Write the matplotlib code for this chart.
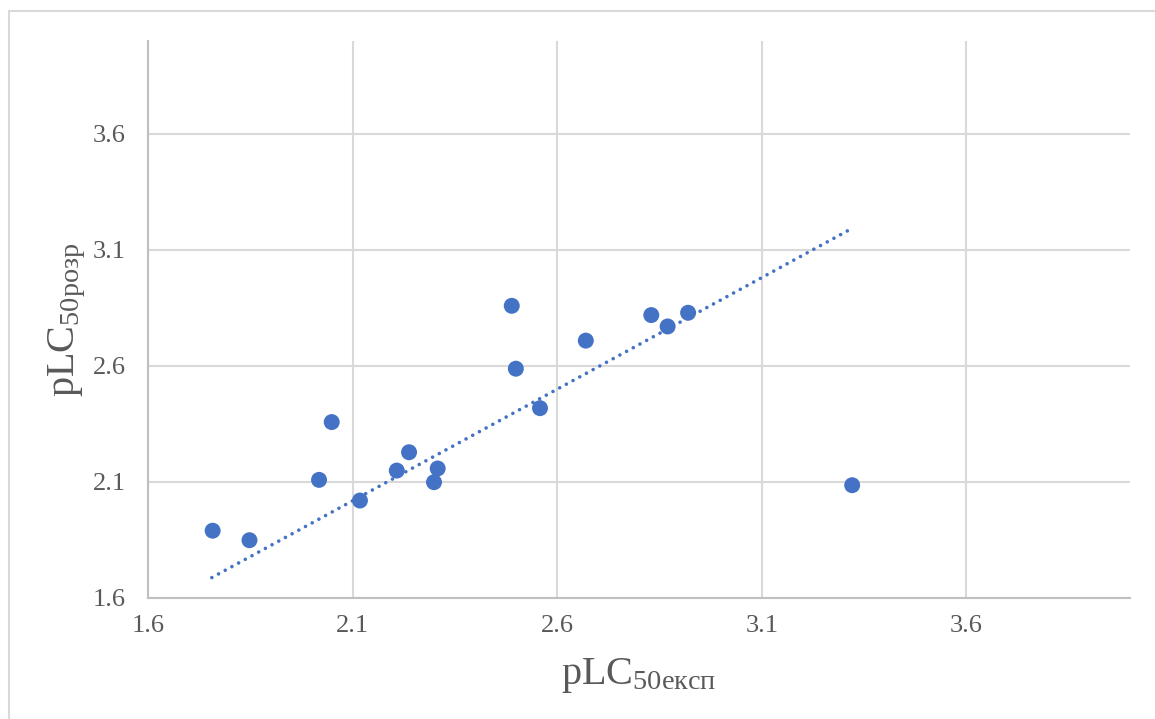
import matplotlib
matplotlib.use('Agg')
import matplotlib.pyplot as plt
import numpy as np

# Експериментальні та розраховані значення pLC50
plc_exp = [1.758, 1.848, 2.018, 2.049, 2.118, 2.208, 2.238, 2.299, 2.308,
           2.489, 2.499, 2.558, 2.670, 2.830, 2.870, 2.920, 3.321]
plc_calc = [1.890, 1.849, 2.109, 2.358, 2.020, 2.149, 2.228, 2.099, 2.158,
            2.859, 2.588, 2.418, 2.709, 2.819, 2.770, 2.829, 2.086]

# Лінія тренду (кінцеві точки)
trend_x = [1.756, 3.321]
trend_y = [1.688, 3.193]

ticks = [1.6, 2.1, 2.6, 3.1, 3.6]
tick_labels = ['1.6', '2.1', '2.6', '3.1', '3.6']

plt.rcParams['font.family'] = ['Liberation Serif', 'DejaVu Serif']
plt.rcParams['mathtext.fontset'] = 'custom'
plt.rcParams['mathtext.rm'] = 'Liberation Serif'
plt.rcParams['mathtext.it'] = 'Liberation Serif'

blue = '#4472C4'
grid_c = '#D9D9D9'
axis_c = '#BFBFBF'
text_c = '#595959'

fig = plt.figure(figsize=(11.55, 7.19), dpi=100)
# рамка області діаграми
fig.patches.append(plt.Rectangle((9 / 1155, -0.01), 1.1, 1 - 11 / 719 + 0.01,
                                 transform=fig.transFigure, fill=False,
                                 edgecolor=grid_c, linewidth=1.5))

ax = fig.add_axes([148 / 1155, 1 - 598 / 719, (1130 - 148) / 1155, (598 - 41) / 719])

ax.plot(trend_x, trend_y, color=blue, linestyle=(0, (0.01, 2.1)), linewidth=2.6,
        dash_capstyle='round', zorder=2)
ax.scatter(plc_exp, plc_calc, s=132, color=blue, edgecolors='none', zorder=3)

ax.set_xlim(1.6, 4.0)
ax.set_ylim(1.6, 4.0)
ax.set_xticks(ticks)
ax.set_yticks(ticks)
ax.set_xticklabels(tick_labels)
ax.set_yticklabels(tick_labels)
ax.grid(True, color=grid_c, linewidth=1.5, zorder=0)
ax.set_axisbelow(True)

for s in ['top', 'right']:
    ax.spines[s].set_visible(False)
ax.spines['bottom'].set_color(axis_c)
ax.spines['left'].set_color(axis_c)
ax.spines['bottom'].set_linewidth(1.5)
ax.spines['left'].set_linewidth(1.5)

ax.tick_params(axis='both', length=0, labelsize=19, labelcolor=text_c)
ax.tick_params(axis='x', pad=12)
ax.tick_params(axis='y', pad=16)

ax.set_xlabel(r'$\mathrm{pLC}_{\mathrm{50експ}}$', fontsize=29, color=text_c, labelpad=14)
ax.set_ylabel(r'$\mathrm{pLC}_{\mathrm{50розр}}$', fontsize=29, color=text_c, labelpad=3)

fig.savefig('out.png', dpi=100)
